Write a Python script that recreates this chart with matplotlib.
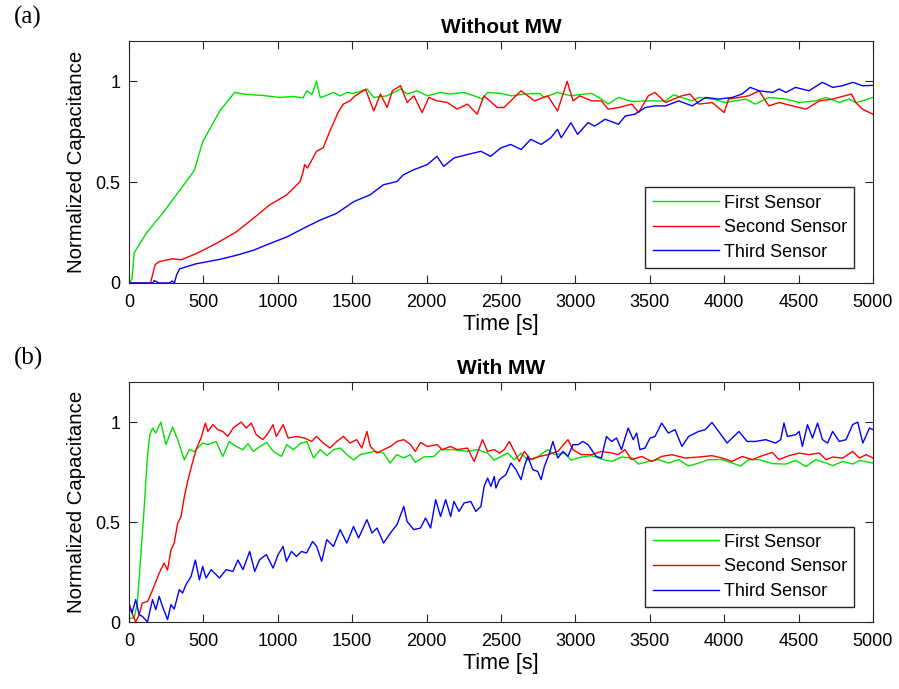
import matplotlib
matplotlib.use("Agg")
import matplotlib.pyplot as plt

plt.rcParams['font.family'] = ['Liberation Sans', 'DejaVu Sans']

# ---- (a) Without MW ----
a_green_t = [0, 20, 35, 115, 225, 405, 440, 495, 610, 710, 790, 900, 1015, 1100, 1170, 1195, 1230, 1260,
             1285, 1320, 1375, 1420, 1465, 1510, 1600, 1645, 1735, 1825, 1870, 1935, 2005, 2095, 2160,
             2250, 2320, 2375, 2410, 2500, 2570, 2660, 2760, 2790, 2880, 2970, 3060, 3110, 3175, 3220,
             3290, 3380, 3490, 3605, 3660, 3785, 3830, 3920, 4010, 4145, 4210, 4300, 4415, 4505, 4615,
             4685, 4775, 4840, 4885, 4930, 5000]
a_green_v = [0.0, 0.02, 0.15, 0.245, 0.345, 0.523, 0.56, 0.70, 0.853, 0.945, 0.935, 0.93, 0.92, 0.925, 0.918,
             0.953, 0.935, 1.0, 0.92, 0.928, 0.945, 0.928, 0.945, 0.94, 0.962, 0.92, 0.928, 0.962, 0.937,
             0.953, 0.928, 0.945, 0.937, 0.945, 0.928, 0.912, 0.945, 0.94, 0.928, 0.937, 0.94, 0.92, 0.945,
             0.928, 0.937, 0.94, 0.912, 0.887, 0.92, 0.9, 0.903, 0.903, 0.933, 0.903, 0.92, 0.912, 0.895,
             0.912, 0.887, 0.92, 0.912, 0.895, 0.903, 0.92, 0.895, 0.912, 0.895, 0.903, 0.92]

a_red_t = [0, 145, 175, 200, 290, 350, 450, 585, 720, 835, 945, 1060, 1150, 1170, 1180, 1200, 1260, 1305,
           1350, 1405, 1440, 1485, 1520, 1590, 1645, 1690, 1735, 1770, 1825, 1870, 1915, 1970, 2015, 2070,
           2140, 2205, 2275, 2340, 2385, 2430, 2475, 2520, 2635, 2725, 2815, 2880, 2945, 2985, 3030, 3110,
           3175, 3220, 3290, 3380, 3425, 3490, 3535, 3605, 3715, 3770, 3830, 3920, 4000, 4030, 4100, 4165,
           4235, 4300, 4370, 4460, 4550, 4640, 4730, 4855, 4885, 4930, 5000]
a_red_v = [0.0, 0.0, 0.09, 0.105, 0.12, 0.115, 0.145, 0.195, 0.253, 0.32, 0.387, 0.437, 0.503, 0.55, 0.587,
           0.57, 0.653, 0.67, 0.753, 0.845, 0.887, 0.903, 0.928, 0.96, 0.853, 0.937, 0.87, 0.953, 0.978,
           0.895, 0.928, 0.845, 0.92, 0.903, 0.895, 0.862, 0.887, 0.837, 0.928, 0.9, 0.87, 0.87, 0.953,
           0.903, 0.928, 0.853, 1.0, 0.903, 0.928, 0.903, 0.903, 0.862, 0.87, 0.887, 0.845, 0.928, 0.945,
           0.895, 0.928, 0.937, 0.887, 0.895, 0.845, 0.912, 0.92, 0.928, 0.953, 0.878, 0.895, 0.878, 0.862,
           0.903, 0.912, 0.937, 0.895, 0.862, 0.837]

a_blue_t = [0, 160, 170, 200, 270, 290, 305, 320, 340, 450, 610, 720, 835, 945, 1060, 1170, 1285, 1395,
            1510, 1620, 1710, 1800, 1845, 1915, 2005, 2070, 2115, 2185, 2275, 2365, 2430, 2500, 2565, 2635,
            2700, 2770, 2835, 2880, 2905, 2970, 3015, 3085, 3130, 3200, 3290, 3335, 3400, 3470, 3535, 3605,
            3695, 3785, 3875, 3965, 4055, 4120, 4175, 4235, 4325, 4370, 4415, 4480, 4570, 4660, 4730, 4795,
            4865, 4930, 5000]
a_blue_v = [0.0, 0.0, 0.012, 0.0, 0.0, 0.01, 0.0, 0.04, 0.07, 0.095, 0.117, 0.137, 0.162, 0.195, 0.228,
            0.27, 0.312, 0.345, 0.403, 0.437, 0.487, 0.503, 0.537, 0.562, 0.587, 0.628, 0.578, 0.62, 0.637,
            0.653, 0.628, 0.67, 0.687, 0.662, 0.712, 0.687, 0.72, 0.762, 0.72, 0.795, 0.737, 0.795, 0.778,
            0.812, 0.787, 0.828, 0.837, 0.87, 0.878, 0.878, 0.903, 0.878, 0.92, 0.912, 0.92, 0.937, 0.97,
            0.953, 0.945, 0.962, 0.945, 0.97, 0.953, 0.995, 0.97, 0.978, 0.995, 0.978, 0.98]

# ---- (b) With MW ----
b_green_t = [0, 35, 56, 79, 101, 124, 140, 158, 180, 214, 248, 293, 327, 372, 405, 440, 495, 530, 585, 630,
             675, 720, 765, 800, 835, 880, 925, 970, 1025, 1060, 1105, 1150, 1195, 1240, 1285, 1330, 1375,
             1420, 1465, 1510, 1555, 1645, 1710, 1755, 1800, 1845, 1890, 1925, 1980, 2050, 2095, 2185, 2275,
             2340, 2410, 2455, 2500, 2545, 2590, 2635, 2680, 2745, 2815, 2860, 2930, 2970, 3040, 3110, 3175,
             3245, 3310, 3380, 3425, 3490, 3560, 3625, 3695, 3760, 3830, 3895, 3985, 4055, 4110, 4165, 4235,
             4325, 4415, 4480, 4550, 4615, 4685, 4730, 4795, 4865, 4910, 5000]
b_green_v = [0.02, 0.02, 0.095, 0.33, 0.56, 0.83, 0.937, 0.97, 0.945, 1.0, 0.887, 0.975, 0.912, 0.81, 0.862,
             0.853, 0.895, 0.887, 0.903, 0.828, 0.903, 0.878, 0.862, 0.892, 0.853, 0.878, 0.898, 0.853, 0.828,
             0.887, 0.862, 0.892, 0.903, 0.82, 0.862, 0.832, 0.862, 0.87, 0.837, 0.81, 0.837, 0.853, 0.845,
             0.795, 0.837, 0.82, 0.837, 0.798, 0.825, 0.828, 0.862, 0.862, 0.853, 0.862, 0.845, 0.81, 0.828,
             0.845, 0.81, 0.845, 0.81, 0.825, 0.862, 0.837, 0.845, 0.81, 0.825, 0.832, 0.815, 0.803, 0.825,
             0.82, 0.79, 0.803, 0.812, 0.795, 0.812, 0.78, 0.795, 0.812, 0.812, 0.795, 0.78, 0.812, 0.812,
             0.792, 0.79, 0.808, 0.778, 0.812, 0.795, 0.782, 0.803, 0.79, 0.808, 0.795]

b_red_t = [0, 20, 45, 65, 90, 125, 158, 203, 236, 259, 282, 304, 327, 350, 372, 394, 417, 450, 484, 513, 530,
           563, 597, 630, 664, 700, 754, 788, 822, 855, 900, 935, 968, 990, 1036, 1070, 1125, 1180, 1227, 1260,
           1306, 1351, 1396, 1441, 1486, 1530, 1565, 1599, 1622, 1667, 1711, 1757, 1801, 1847, 1892, 1925,
           1959, 2005, 2072, 2105, 2160, 2207, 2275, 2320, 2376, 2410, 2455, 2490, 2522, 2556, 2590, 2623,
           2657, 2702, 2760, 2815, 2882, 2950, 2984, 3040, 3108, 3175, 3243, 3288, 3333, 3378, 3445, 3513,
           3580, 3648, 3738, 3828, 3918, 3986, 4053, 4121, 4189, 4256, 4324, 4369, 4436, 4504, 4571, 4639,
           4684, 4729, 4797, 4864, 4909, 4954, 5000]
b_red_v = [0.095, 0.045, 0.0, 0.03, 0.095, 0.103, 0.16, 0.245, 0.295, 0.26, 0.36, 0.395, 0.495, 0.528, 0.628,
           0.703, 0.77, 0.86, 0.92, 0.995, 0.953, 0.987, 0.962, 0.953, 0.928, 0.97, 1.0, 0.97, 0.995, 0.937,
           0.912, 0.945, 0.987, 0.928, 0.987, 0.92, 0.928, 0.92, 0.903, 0.928, 0.895, 0.87, 0.903, 0.928,
           0.895, 0.912, 0.87, 0.953, 0.878, 0.845, 0.862, 0.878, 0.903, 0.912, 0.887, 0.853, 0.898, 0.878,
           0.887, 0.862, 0.878, 0.862, 0.87, 0.803, 0.912, 0.853, 0.862, 0.845, 0.862, 0.903, 0.853, 0.803,
           0.853, 0.812, 0.828, 0.837, 0.853, 0.912, 0.862, 0.837, 0.837, 0.853, 0.845, 0.837, 0.862, 0.812,
           0.828, 0.803, 0.828, 0.837, 0.82, 0.825, 0.832, 0.82, 0.803, 0.828, 0.812, 0.832, 0.848, 0.812,
           0.832, 0.845, 0.837, 0.845, 0.812, 0.825, 0.82, 0.853, 0.82, 0.837, 0.82]

b_blue_t = [0, 20, 45, 68, 90, 124, 158, 180, 203, 225, 259, 282, 304, 338, 360, 383, 417, 446, 473, 495, 518,
            552, 585, 608, 653, 698, 732, 766, 811, 845, 878, 923, 968, 1002, 1036, 1058, 1092, 1125, 1160,
            1193, 1234, 1261, 1295, 1329, 1374, 1419, 1464, 1509, 1543, 1599, 1633, 1667, 1711, 1757, 1801,
            1847, 1869, 1914, 1959, 1993, 2027, 2061, 2094, 2128, 2162, 2184, 2218, 2252, 2297, 2331, 2365,
            2387, 2410, 2432, 2455, 2466, 2490, 2533, 2567, 2601, 2635, 2657, 2680, 2714, 2747, 2770, 2792,
            2826, 2849, 2882, 2916, 2950, 2984, 3018, 3051, 3085, 3108, 3141, 3175, 3209, 3243, 3277, 3310,
            3355, 3389, 3412, 3434, 3468, 3502, 3535, 3580, 3625, 3670, 3716, 3761, 3828, 3873, 3918, 3963,
            4020, 4065, 4099, 4155, 4211, 4279, 4346, 4380, 4402, 4425, 4481, 4504, 4526, 4560, 4594, 4628,
            4661, 4695, 4729, 4774, 4819, 4864, 4898, 4932, 4977, 5000]
b_blue_v = [0.087, 0.045, 0.112, 0.037, 0.028, 0.0, 0.112, 0.062, 0.128, 0.078, 0.012, 0.087, 0.065, 0.162,
            0.145, 0.187, 0.228, 0.31, 0.211, 0.278, 0.22, 0.262, 0.237, 0.22, 0.262, 0.253, 0.31, 0.262,
            0.353, 0.253, 0.312, 0.337, 0.27, 0.337, 0.378, 0.303, 0.353, 0.328, 0.353, 0.345, 0.403, 0.378,
            0.303, 0.412, 0.378, 0.462, 0.395, 0.478, 0.42, 0.512, 0.445, 0.47, 0.395, 0.445, 0.487, 0.578,
            0.503, 0.462, 0.47, 0.52, 0.47, 0.612, 0.528, 0.612, 0.528, 0.603, 0.553, 0.595, 0.603, 0.553,
            0.578, 0.678, 0.72, 0.678, 0.728, 0.67, 0.712, 0.737, 0.795, 0.762, 0.712, 0.778, 0.828, 0.762,
            0.753, 0.712, 0.778, 0.845, 0.903, 0.82, 0.853, 0.828, 0.887, 0.887, 0.903, 0.887, 0.862, 0.828,
            0.82, 0.928, 0.903, 0.92, 0.862, 0.97, 0.912, 0.945, 0.862, 0.87, 0.92, 0.928, 0.995, 0.945,
            0.962, 0.878, 0.928, 0.953, 0.962, 0.998, 0.953, 0.895, 0.928, 0.953, 0.903, 0.903, 0.912, 0.895,
            0.912, 0.995, 0.928, 0.937, 0.953, 0.878, 0.987, 0.92, 0.995, 0.912, 0.895, 0.953, 0.903, 0.912,
            0.987, 1.0, 0.895, 0.97, 0.962]

labels = ["First Sensor", "Second Sensor", "Third Sensor"]
colors = ["#00e000", "#ff0000", "#0000ff"]
xticks = [0, 500, 1000, 1500, 2000, 2500, 3000, 3500, 4000, 4500, 5000]

fig = plt.figure(figsize=(8.99, 6.89), dpi=100)
ax1 = fig.add_axes([0.1435, 0.5893, 0.8275, 0.3512])
ax2 = fig.add_axes([0.1435, 0.0972, 0.8275, 0.3483])

panels = [
    (ax1, "Without MW", [(a_green_t, a_green_v), (a_red_t, a_red_v), (a_blue_t, a_blue_v)], "(a)"),
    (ax2, "With MW", [(b_green_t, b_green_v), (b_red_t, b_red_v), (b_blue_t, b_blue_v)], "(b)"),
]

for ax, title, series, tag in panels:
    for (t, v), c, lab in zip(series, colors, labels):
        ax.plot(t, v, color=c, linewidth=1.0, label=lab)
    ax.set_xlim(0, 5000)
    ax.set_ylim(0, 1.2)
    ax.set_xticks(xticks)
    ax.set_yticks([0, 0.5, 1])
    ax.set_yticklabels(["0", "0.5", "1"])
    ax.tick_params(direction='in', top=True, right=True, labelsize=13, length=6, color='#262626')
    ax.tick_params(axis='x', pad=8)
    ax.tick_params(axis='y', pad=6)
    for s in ax.spines.values():
        s.set_color('#262626')
        s.set_linewidth(0.8)
    ax.set_xlabel("Time [s]", fontsize=15.5, labelpad=2)
    ax.set_ylabel("Normalized Capacitance", fontsize=14.7, labelpad=7)
    ax.set_title(title, fontsize=15, fontweight='bold', pad=6)
    leg = ax.legend(loc='lower right', bbox_to_anchor=(0.975, 0.062), borderaxespad=0,
                    fontsize=13, handlelength=3.65, handletextpad=0.3, fancybox=False, framealpha=1,
                    edgecolor='#262626', borderpad=0.4, labelspacing=0.42)
    leg.get_frame().set_linewidth(1.0)
    fig.text(0.015, ax.get_position().y1 + 0.025, tag, fontsize=18, family='Liberation Serif')

fig.savefig("out.png", dpi=100)
